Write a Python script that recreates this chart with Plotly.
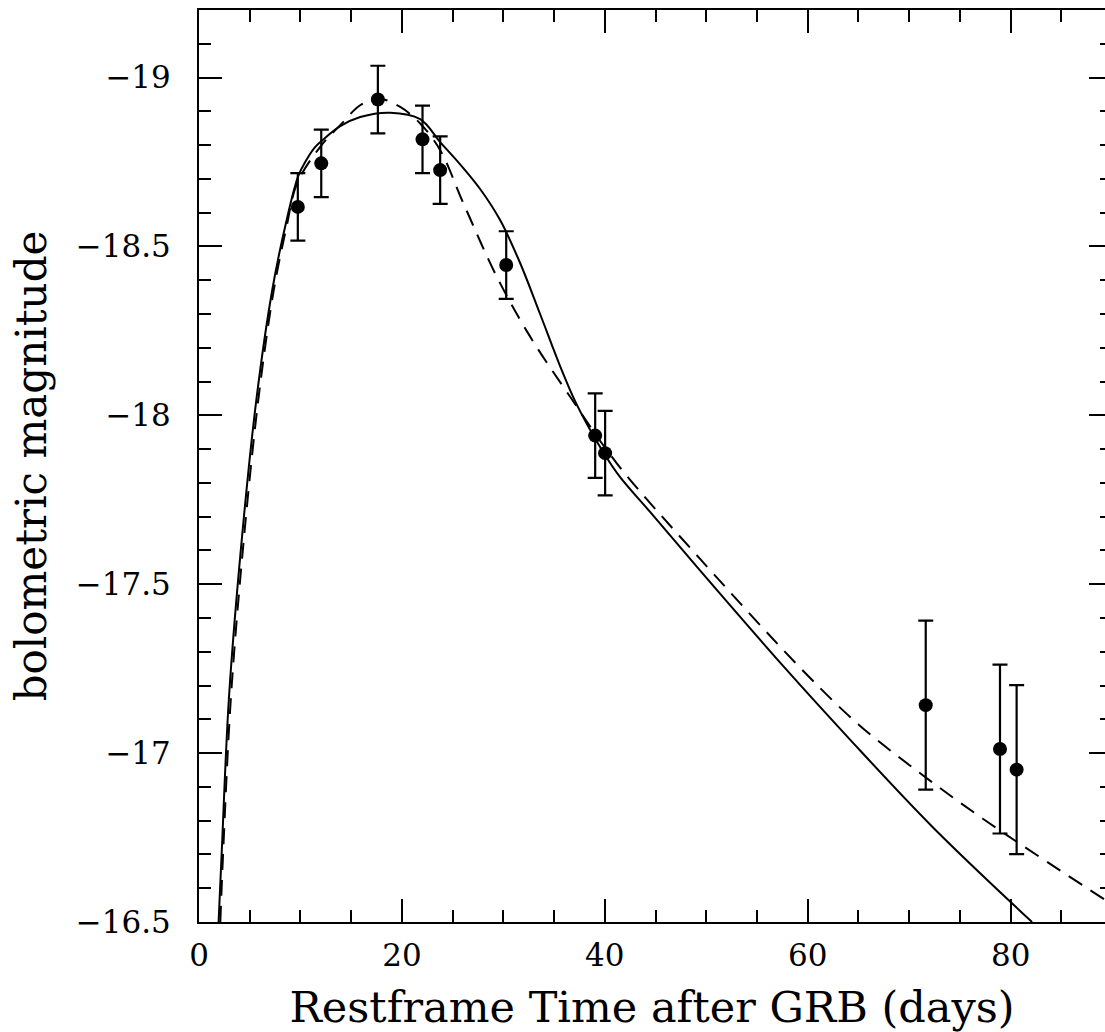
import plotly.graph_objects as go

# Observed data points
obs_t = [9.74, 12.05, 17.63, 22.03, 23.77, 30.28, 39.05, 40.03, 71.63, 78.95, 80.59]
obs_mag = [-18.617, -18.746, -18.935, -18.817, -18.726, -18.445, -17.940, -17.888, -17.142, -17.012, -16.951]
obs_err = [0.10, 0.10, 0.10, 0.10, 0.10, 0.10, 0.125, 0.125, 0.25, 0.25, 0.25]

# Model 1 (solid)
solid_t = [1.93, 2.25, 2.94, 4.12, 5.65, 7.22, 8.50, 9.78, 10.57, 11.36, 12.15, 13.92, 15.89,
           18.85, 21.80, 23.77, 25.74, 27.71, 29.68, 31.65, 33.62, 35.59, 37.07, 38.55,
           40.03, 41.51, 44.46, 49.40, 57.57, 64.17, 72.35, 82.11]
solid_mag = [-16.500, -16.714, -17.158, -17.601, -18.045, -18.371, -18.560, -18.708, -18.755,
             -18.791, -18.814, -18.856, -18.883, -18.896, -18.877, -18.809, -18.743, -18.670,
             -18.578, -18.451, -18.300, -18.146, -18.042, -17.957, -17.882, -17.817, -17.714,
             -17.540, -17.258, -17.040, -16.780, -16.500]

# Model 2 (dashed)
dash_t = [2.10, 2.39, 3.13, 4.32, 5.84, 7.37, 8.60, 9.66, 11.95, 13.92, 15.89, 17.64, 19.83,
          21.80, 23.77, 26.07, 29.36, 32.64, 36.58, 41.18, 49.39, 59.73, 65.00, 70.00, 77.30, 89.29]
dash_mag = [-16.500, -16.714, -17.158, -17.601, -18.045, -18.371, -18.554, -18.686, -18.795,
            -18.859, -18.918, -18.938, -18.913, -18.864, -18.785, -18.627, -18.410, -18.233,
            -18.055, -17.858, -17.575, -17.238, -17.085, -16.965, -16.805, -16.566]

x_major = [0, 20, 40, 60, 80]
y_major = [-19, -18.5, -18, -17.5, -17, -16.5]
y_labels = ["\u221219", "\u221218.5", "\u221218", "\u221217.5", "\u221217", "\u221216.5"]

FONT = "DejaVu Serif"
x_range = [0, 89.3]
y_range = [-16.5, -19.2]

fig = go.Figure()
fig.add_trace(go.Scatter(x=solid_t, y=solid_mag, mode="lines",
                         line=dict(color="black", width=2, shape="spline", smoothing=1.0),
                         hoverinfo="skip", showlegend=False))
fig.add_trace(go.Scatter(x=dash_t, y=dash_mag, mode="lines",
                         line=dict(color="black", width=2, dash="16px,10px", shape="spline", smoothing=1.0),
                         hoverinfo="skip", showlegend=False))
fig.add_trace(go.Scatter(x=obs_t, y=obs_mag, mode="markers",
                         marker=dict(color="black", size=14),
                         error_y=dict(type="data", array=obs_err, color="black", thickness=2.2, width=7.5),
                         showlegend=False))
# helper trace for the right-hand tick axis
fig.add_trace(go.Scatter(x=[x_range[0]], y=[y_range[0]], yaxis="y2", mode="markers",
                         marker=dict(opacity=0), hoverinfo="skip", showlegend=False))

fig.update_layout(
    width=1105, height=1032,
    margin=dict(l=199, r=0, t=10, b=110),
    paper_bgcolor="white", plot_bgcolor="white",
    font=dict(family=FONT, color="black"),
    xaxis=dict(range=x_range, showline=True, linecolor="black", linewidth=2, mirror="ticks",
               ticks="inside", ticklen=23, tickwidth=2, tickcolor="black",
               tickvals=x_major, ticktext=[str(v) for v in x_major],
               minor=dict(ticks="inside", ticklen=12, tickwidth=2, tickcolor="black", dtick=5, tick0=0),
               showgrid=False, zeroline=False, tickfont=dict(size=31, family=FONT),
               ticklabelstandoff=5,
               title=dict(text="Restframe Time after GRB (days)", font=dict(size=43, family=FONT), standoff=22)),
    yaxis=dict(range=y_range, showline=True, linecolor="black", linewidth=2, mirror=False,
               ticks="inside", ticklen=23, tickwidth=2, tickcolor="black",
               tickvals=y_major, ticktext=y_labels,
               minor=dict(ticks="inside", ticklen=12, tickwidth=2, tickcolor="black", dtick=0.1, tick0=-19),
               showgrid=False, zeroline=False, tickfont=dict(size=31, family=FONT),
               ticklabelstandoff=20,
               title=dict(text="bolometric magnitude", font=dict(size=42, family=FONT), standoff=16)),
    yaxis2=dict(range=y_range, overlaying="y", side="right", showline=False,
                ticks="inside", ticklen=16, tickwidth=2, tickcolor="black",
                tickvals=y_major, showticklabels=False,
                minor=dict(ticks="inside", ticklen=5, tickwidth=2, tickcolor="black", dtick=0.1, tick0=-19),
                showgrid=False, zeroline=False),
)

fig.write_html("out.html")
